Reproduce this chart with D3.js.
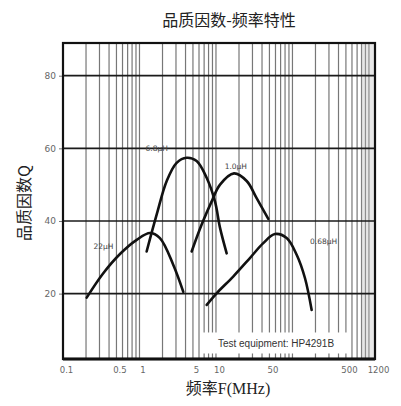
<!DOCTYPE html>
<html>
<head>
<meta charset="utf-8">
<title>品质因数-频率特性</title>
<script src="https://cdn.jsdelivr.net/npm/d3@7/dist/d3.min.js"></script>
<style>
  body { margin: 0; background: #fff; }
  svg { display: block; }
</style>
</head>
<body>
<div id="chart"></div>
<script>
// data (frequency in MHz, Q)
var freq22 = [0.204, 0.336, 0.556, 0.919, 1.37, 1.85, 2.77, 3.74];
var q22    = [18.9, 25.6, 30.9, 34.8, 36.7, 35.3, 27.9, 20.5];

var freq68 = [1.24, 1.68, 2.27, 3.06, 4.14, 5.59, 7.55, 9.7, 11.3, 13.8];
var q68    = [31.6, 41.8, 51.0, 56.0, 57.4, 56.5, 51.9, 45.4, 38.1, 31.1];

var freq10 = [4.81, 6.5, 8.79, 11.3, 17.2, 25.2, 34.0, 48.3];
var q10    = [31.6, 39.0, 45.4, 50.0, 53.1, 51.0, 46.3, 40.6];

var freq068 = [7.56, 10.2, 16.8, 27.8, 41.5, 59.0, 84.0, 113.5, 145.6, 178.2];
var q068    = [16.9, 20.1, 24.7, 29.8, 33.9, 36.4, 35.3, 30.7, 24.3, 15.5];

var seriesNames = ["22μH", "6.8μH", "1.0μH", "0.68μH"];
var labelAt = [[0.25, 33], [1.2, 60], [13, 55], [170, 34.5]]; // where each name sits

var xTicks = [0.1, 0.5, 1, 5, 10, 50, 500, 1200];
var yTicks = [20, 40, 60, 80];

var width = 401, height = 406;
// plot box (note: "top" is taken by window.top, so prefix these)
var pLeft = 63, pRight = 375, pTop = 43, pBottom = 359;

var svg = d3.select("#chart").append("svg")
  .attr("width", width)
  .attr("height", height);

var x = d3.scaleLog().domain([0.1, 1200]).range([pLeft, pRight]);
var y = d3.scaleLinear().domain([2, 89]).range([pBottom, pTop]);

// vertical grid: 1..9 in every decade
var vlines = [];
[0.1, 1, 10, 100, 1000].forEach(function(dec) {
  for (var k = 1; k <= 9; k++) {
    var v = dec * k;
    if (v > 0.1 && v < 1200) vlines.push(v);
  }
});

svg.append("g").selectAll("line").data(vlines).enter().append("line")
  .attr("x1", function(d) { return x(d); })
  .attr("x2", function(d) { return x(d); })
  .attr("y1", pTop).attr("y2", pBottom)
  .style("stroke", "#777")
  .style("stroke-width", 1.2);

// scan shading near the right edge
svg.append("rect")
  .attr("x", x(800)).attr("y", pTop)
  .attr("width", pRight - x(800)).attr("height", pBottom - pTop)
  .style("fill", "#bbb").style("opacity", 0.35);

// white patch behind the equipment note
svg.append("rect")
  .attr("x", 203).attr("y", y(9.3))
  .attr("width", 146).attr("height", 21)
  .style("fill", "#fff");

// horizontal grid
svg.append("g").selectAll("line").data(yTicks).enter().append("line")
  .attr("x1", pLeft).attr("x2", pRight)
  .attr("y1", function(d) { return y(d); })
  .attr("y2", function(d) { return y(d); })
  .style("stroke", "#1a1a1a")
  .style("stroke-width", 1.7);

// y tick marks and labels
var yAxis = d3.axisLeft(y).tickValues(yTicks).tickSize(4).tickPadding(3);
svg.append("g")
  .attr("transform", "translate(" + pLeft + ",0)")
  .call(yAxis)
  .call(function(g) {
    g.select(".domain").remove();
    g.selectAll("line").style("stroke", "#777");
    g.selectAll("text").style("font-family", "'DejaVu Sans', sans-serif")
      .style("font-size", "9px").style("fill", "#666");
  });

// x tick labels
var xAxis = d3.axisBottom(x).tickValues(xTicks).tickSize(0).tickPadding(8)
  .tickFormat(function(d) { return String(d); });
svg.append("g")
  .attr("transform", "translate(3," + pBottom + ")")
  .call(xAxis)
  .call(function(g) {
    g.select(".domain").remove();
    g.selectAll("text").style("font-family", "'DejaVu Sans', sans-serif")
      .style("font-size", "8.5px").style("fill", "#666");
  });

// frame
svg.append("rect")
  .attr("x", pLeft).attr("y", pTop)
  .attr("width", pRight - pLeft).attr("height", pBottom - pTop)
  .style("fill", "none")
  .style("stroke", "#111")
  .style("stroke-width", 2.2);
svg.append("line")
  .attr("x1", pLeft).attr("x2", pRight)
  .attr("y1", pBottom).attr("y2", pBottom)
  .style("stroke", "#111").style("stroke-width", 3);

// curves
var line = d3.line()
  .x(function(d) { return x(d[0]); })
  .y(function(d) { return y(d[1]); })
  .curve(d3.curveCatmullRom.alpha(0.5));

var curves = [
  d3.zip(freq22, q22),
  d3.zip(freq68, q68),
  d3.zip(freq10, q10),
  d3.zip(freq068, q068)
];

svg.append("g").selectAll("path").data(curves).enter().append("path")
  .attr("d", line)
  .style("fill", "none")
  .style("stroke", "#111")
  .style("stroke-width", 2.6)
  .style("stroke-linecap", "round");

// series labels
svg.append("g").selectAll("text").data(seriesNames).enter().append("text")
  .attr("x", function(d, i) { return x(labelAt[i][0]); })
  .attr("y", function(d, i) { return y(labelAt[i][1]) + 3; })
  .text(function(d) { return d; })
  .style("font-family", "'DejaVu Sans', sans-serif")
  .style("font-size", "7.5px")
  .style("fill", "#444");

svg.append("text")
  .attr("x", 276).attr("y", y(6.2) + 3)
  .attr("text-anchor", "middle")
  .text("Test equipment: HP4291B")
  .style("font-family", "'Liberation Sans', sans-serif")
  .style("font-size", "10px")
  .style("fill", "#333");

// titles
svg.append("text")
  .attr("x", 229).attr("y", 26)
  .attr("text-anchor", "middle")
  .text("品质因数-频率特性")
  .style("font-family", "'Noto Sans CJK SC', sans-serif")
  .style("font-size", "16px")
  .style("fill", "#222");

svg.append("text")
  .attr("transform", "translate(30,203) rotate(-90)")
  .attr("text-anchor", "middle")
  .text("品质因数Q")
  .style("font-family", "'Noto Sans CJK SC', sans-serif")
  .style("font-size", "16px")
  .style("fill", "#222");

var xTitle = svg.append("text")
  .attr("x", 228).attr("y", 394)
  .attr("text-anchor", "middle")
  .style("font-size", "16px")
  .style("fill", "#222");
xTitle.append("tspan").text("频率")
  .style("font-family", "'Noto Sans CJK SC', sans-serif");
xTitle.append("tspan").text("F(MHz)")
  .style("font-family", "'Liberation Serif', serif");
</script>
</body>
</html>
